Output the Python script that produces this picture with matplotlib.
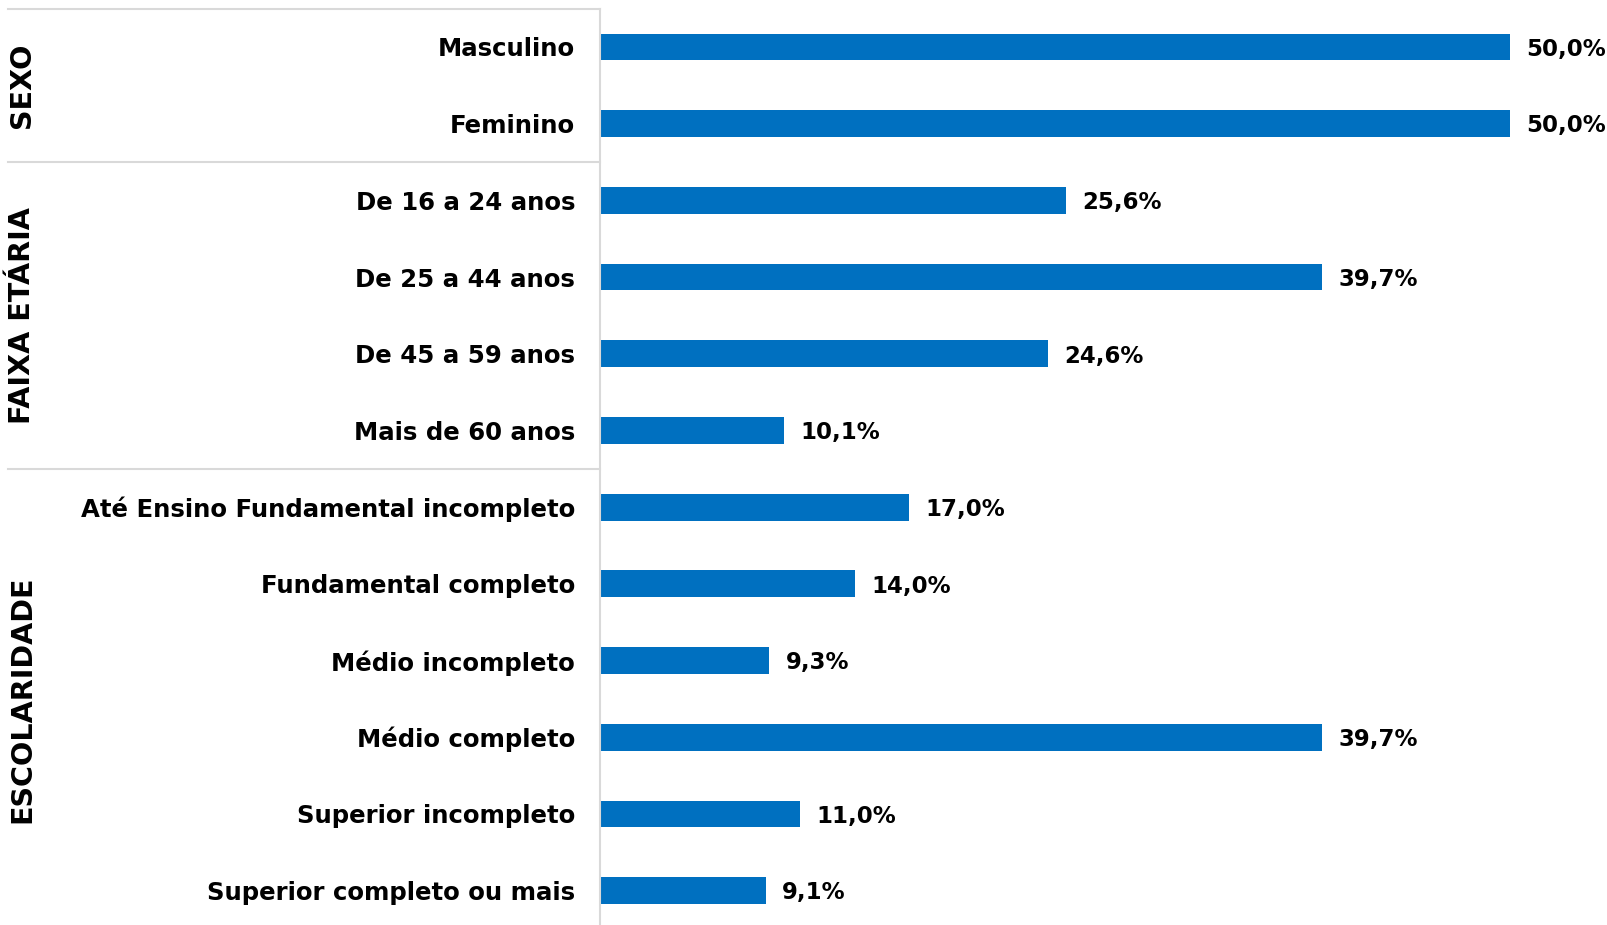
import matplotlib
matplotlib.use("Agg")
import matplotlib.pyplot as plt
import matplotlib.transforms as mtransforms
import numpy as np

# data
categories = ['Masculino', 'Feminino',
              'De 16 a 24 anos', 'De 25 a 44 anos', 'De 45 a 59 anos', 'Mais de 60 anos',
              'Até Ensino Fundamental incompleto', 'Fundamental completo', 'Médio incompleto',
              'Médio completo', 'Superior incompleto', 'Superior completo ou mais']
values = [50.0, 50.0, 25.6, 39.7, 24.6, 10.1, 17.0, 14.0, 9.3, 39.7, 11.0, 9.1]
groups = ['SEXO', 'FAIXA ETÁRIA', 'ESCOLARIDADE']
group_sizes = [2, 4, 6]

blue = '#0070C0'
grid_gray = '#d9d9d9'
W, H = 1608, 925

fig = plt.figure(figsize=(W / 100, H / 100), dpi=100)
ax_left = 600 / W
ax_top = 1 - 8.6 / H
ax_bottom = 1 - 929 / H
ax = fig.add_axes([ax_left, ax_bottom, 1 - ax_left, ax_top - ax_bottom])

y = np.arange(len(categories))
ax.barh(y, values, height=0.35, color=blue)
ax.set_ylim(len(categories) - 0.5, -0.5)
ax.set_xlim(0, 55.4)

ax.set_yticks(y)
ax.set_yticklabels(categories, fontsize=17.6, fontweight='bold', family='DejaVu Sans')
ax.tick_params(axis='y', length=0, pad=18)
ax.set_xticks([])
for s in ['top', 'right', 'bottom']:
    ax.spines[s].set_visible(False)
ax.spines['left'].set_color(grid_gray)
ax.spines['left'].set_linewidth(1.5)

for yi, v in zip(y, values):
    ax.text(v + 0.9, yi + 0.03, f'{v:.1f}%'.replace('.', ','), va='center', ha='left',
            fontsize=16.5, fontweight='bold', family='DejaVu Sans')

# group separators and group names
trans = mtransforms.blended_transform_factory(fig.transFigure, ax.transData)
start = 0
bounds = [-0.5]
for g, n in zip(groups, group_sizes):
    end = start + n
    bounds.append(end - 0.5)
    mid = (start - 0.5 + end - 0.5) / 2
    fig.text(22 / W, mid, g, transform=trans, rotation=90, ha='center', va='center',
             fontsize=20.6, fontweight='bold', family='DejaVu Sans')
    start = end
for b in bounds[:-1]:
    ax.plot([8 / W, ax_left], [b, b], transform=trans, color=grid_gray, lw=1.5, clip_on=False)

fig.savefig('out.png', dpi=100)
